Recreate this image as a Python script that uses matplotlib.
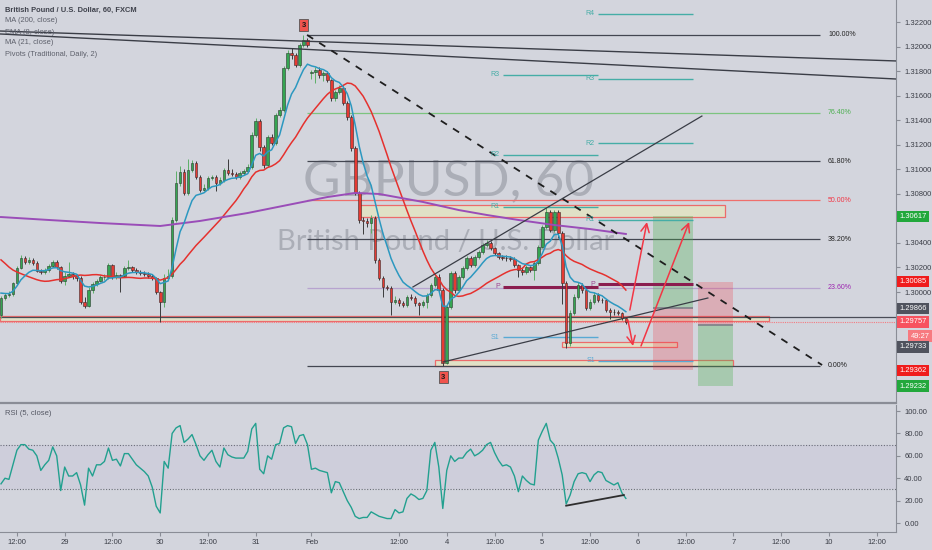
import numpy as np
import pandas as pd
import matplotlib
matplotlib.use('Agg')
import matplotlib.pyplot as plt
from matplotlib.patches import Rectangle
from matplotlib.lines import Line2D
from matplotlib.transforms import blended_transform_factory

plt.rcParams['font.family'] = ['Liberation Sans', 'DejaVu Sans']

# ---------------- data ----------------
opens = [
1.29813, 1.29951, 1.29976, 1.29984, 1.30073, 1.30196, 1.30277, 1.30245, 1.30261, 1.30236,
1.30171, 1.30163, 1.30179, 1.30212, 1.30245, 1.30204, 1.30090, 1.30130, 1.30147, 1.30130,
1.30114, 1.29918, 1.29886, 1.30016, 1.30065, 1.30090, 1.30122, 1.30122, 1.30220, 1.30122,
1.30139, 1.30130, 1.30196, 1.30204, 1.30179, 1.30163, 1.30155, 1.30147, 1.30130, 1.30114,
1.30000, 1.29918, 1.30114, 1.30130, 1.30587, 1.30888, 1.30978, 1.30807, 1.30994, 1.31051,
1.30937, 1.30831, 1.30848, 1.30929, 1.30937, 1.30888, 1.30913, 1.30994, 1.30970, 1.30962,
1.30937, 1.30970, 1.30986, 1.31019, 1.31280, 1.31394, 1.31182, 1.31035, 1.31263, 1.31214,
1.31443, 1.31483, 1.31826, 1.31948, 1.31932, 1.31850, 1.32013, 1.32054, 1.31785, 1.31793,
1.31809, 1.31769, 1.31785, 1.31728, 1.31581, 1.31630, 1.31663, 1.31540, 1.31426, 1.31174,
1.30807, 1.30587, 1.30580, 1.30562, 1.30603, 1.30261, 1.30114, 1.30041, 1.30036, 1.29918,
1.29935, 1.29910, 1.29894, 1.29959, 1.29955, 1.29910, 1.29894, 1.29918, 1.29976, 1.30057,
1.30122, 1.30016, 1.29421, 1.29878, 1.30155, 1.30016, 1.30122, 1.30196, 1.30277, 1.30220,
1.30285, 1.30326, 1.30383, 1.30399, 1.30359, 1.30318, 1.30285, 1.30281, 1.30277, 1.30273,
1.30220, 1.30179, 1.30163, 1.30204, 1.30179, 1.30236, 1.30367, 1.30530, 1.30652, 1.30505,
1.30652, 1.30481, 1.30073, 1.29584, 1.29829, 1.29959, 1.30057, 1.30016, 1.29870, 1.29918,
1.29976, 1.29935, 1.29931, 1.29853, 1.29837, 1.29833, 1.29829, 1.29788]

closes = [
1.29951, 1.29976, 1.29984, 1.30073, 1.30196, 1.30277, 1.30245, 1.30261, 1.30236, 1.30171,
1.30163, 1.30179, 1.30212, 1.30245, 1.30204, 1.30090, 1.30130, 1.30147, 1.30130, 1.30114,
1.29918, 1.29886, 1.30016, 1.30065, 1.30090, 1.30122, 1.30122, 1.30220, 1.30122, 1.30139,
1.30130, 1.30196, 1.30204, 1.30179, 1.30163, 1.30155, 1.30147, 1.30130, 1.30114, 1.30000,
1.29918, 1.30114, 1.30130, 1.30587, 1.30888, 1.30978, 1.30807, 1.30994, 1.31051, 1.30937,
1.30831, 1.30848, 1.30929, 1.30937, 1.30888, 1.30913, 1.30994, 1.30970, 1.30962, 1.30937,
1.30970, 1.30986, 1.31019, 1.31280, 1.31394, 1.31182, 1.31035, 1.31263, 1.31214, 1.31443,
1.31483, 1.31826, 1.31948, 1.31932, 1.31850, 1.32013, 1.32054, 1.32013, 1.31793, 1.31809,
1.31769, 1.31785, 1.31728, 1.31581, 1.31630, 1.31663, 1.31540, 1.31426, 1.31174, 1.30807,
1.30587, 1.30580, 1.30562, 1.30603, 1.30261, 1.30114, 1.30041, 1.30036, 1.29918, 1.29935,
1.29910, 1.29894, 1.29959, 1.29955, 1.29910, 1.29894, 1.29918, 1.29976, 1.30057, 1.30122,
1.30016, 1.29421, 1.29878, 1.30155, 1.30016, 1.30122, 1.30196, 1.30277, 1.30220, 1.30285,
1.30326, 1.30383, 1.30399, 1.30359, 1.30318, 1.30285, 1.30281, 1.30277, 1.30273, 1.30220,
1.30179, 1.30163, 1.30204, 1.30179, 1.30236, 1.30367, 1.30530, 1.30652, 1.30505, 1.30652,
1.30481, 1.30073, 1.29584, 1.29829, 1.29959, 1.30057, 1.30016, 1.29870, 1.29918, 1.29976,
1.29935, 1.29931, 1.29853, 1.29837, 1.29833, 1.29829, 1.29788, 1.29757]

highs = [
1.29968, 1.29995, 1.30010, 1.30085, 1.30210, 1.30300, 1.30290, 1.30285, 1.30275, 1.30250,
1.30190, 1.30195, 1.30225, 1.30262, 1.30258, 1.30215, 1.30160, 1.30245, 1.30165, 1.30150,
1.30130, 1.29960, 1.30040, 1.30085, 1.30110, 1.30140, 1.30150, 1.30235, 1.30230, 1.30160,
1.30150, 1.30215, 1.30260, 1.30215, 1.30195, 1.30180, 1.30170, 1.30165, 1.30145, 1.30125,
1.30010, 1.30150, 1.30190, 1.30610, 1.30990, 1.31030, 1.31000, 1.31080, 1.31075, 1.31070,
1.30950, 1.30880, 1.30945, 1.30955, 1.30950, 1.30935, 1.31010, 1.31080, 1.31000, 1.30980,
1.30990, 1.31005, 1.31040, 1.31300, 1.31420, 1.31410, 1.31195, 1.31280, 1.31290, 1.31460,
1.31505, 1.31840, 1.31970, 1.31985, 1.31950, 1.32030, 1.32095, 1.32070, 1.31810, 1.31830,
1.31830, 1.31800, 1.31800, 1.31740, 1.31650, 1.31690, 1.31680, 1.31555, 1.31440, 1.31190,
1.30820, 1.30610, 1.30600, 1.30625, 1.30620, 1.30275, 1.30130, 1.30060, 1.30050, 1.29965,
1.29950, 1.29925, 1.29975, 1.29980, 1.29970, 1.29920, 1.29935, 1.29990, 1.30075, 1.30140,
1.30150, 1.30030, 1.29900, 1.30170, 1.30170, 1.30140, 1.30215, 1.30295, 1.30290, 1.30300,
1.30345, 1.30400, 1.30420, 1.30415, 1.30370, 1.30330, 1.30300, 1.30300, 1.30295, 1.30285,
1.30230, 1.30200, 1.30220, 1.30215, 1.30250, 1.30385, 1.30550, 1.30690, 1.30670, 1.30670,
1.30665, 1.30500, 1.30090, 1.29850, 1.29980, 1.30080, 1.30070, 1.30030, 1.29940, 1.30000,
1.29990, 1.29955, 1.29945, 1.29870, 1.29860, 1.29850, 1.29840, 1.29800]

lows = [
1.29790, 1.29935, 1.29960, 1.29970, 1.30060, 1.30185, 1.30230, 1.30225, 1.30220, 1.30160,
1.30145, 1.30150, 1.30165, 1.30200, 1.30190, 1.30070, 1.30060, 1.30120, 1.30110, 1.30090,
1.29900, 1.29870, 1.29875, 1.29990, 1.30045, 1.30080, 1.30100, 1.30110, 1.30105, 1.30110,
1.30000, 1.30120, 1.30180, 1.30165, 1.30150, 1.30140, 1.30130, 1.30115, 1.30100, 1.29985,
1.29755, 1.29880, 1.30100, 1.30115, 1.30570, 1.30860, 1.30790, 1.30790, 1.30980, 1.30920,
1.30815, 1.30820, 1.30830, 1.30910, 1.30820, 1.30870, 1.30900, 1.30955, 1.30945, 1.30920,
1.30920, 1.30955, 1.30975, 1.31005, 1.31265, 1.31150, 1.31010, 1.31020, 1.31195, 1.31200,
1.31425, 1.31470, 1.31810, 1.31900, 1.31830, 1.31835, 1.32000, 1.31995, 1.31740, 1.31700,
1.31745, 1.31720, 1.31710, 1.31560, 1.31560, 1.31615, 1.31520, 1.31405, 1.31150, 1.30790,
1.30560, 1.30470, 1.30530, 1.30480, 1.30240, 1.30095, 1.29960, 1.30015, 1.29810, 1.29900,
1.29890, 1.29875, 1.29880, 1.29935, 1.29890, 1.29810, 1.29880, 1.29870, 1.29960, 1.30040,
1.29995, 1.29400, 1.29410, 1.29860, 1.29990, 1.30000, 1.30110, 1.30180, 1.30200, 1.30205,
1.30270, 1.30310, 1.30370, 1.30340, 1.30300, 1.30265, 1.30260, 1.30255, 1.30250, 1.30200,
1.30120, 1.30140, 1.30150, 1.30160, 1.30100, 1.30220, 1.30355, 1.30515, 1.30490, 1.30490,
1.30440, 1.29900, 1.29540, 1.29560, 1.29810, 1.29940, 1.29995, 1.29850, 1.29850, 1.29900,
1.29915, 1.29910, 1.29835, 1.29780, 1.29815, 1.29810, 1.29770, 1.29740]

# closes before the visible window (used to warm up the moving averages)
prior_closes = [1.30560, 1.30590, 1.30550, 1.30600, 1.30570, 1.30620, 1.30580, 1.30540,
                1.30560, 1.30510, 1.30530, 1.30480, 1.30420, 1.30350, 1.30270, 1.30180,
                1.30120, 1.30080, 1.30040, 1.30010, 1.29990, 1.29960, 1.29900, 1.29840]

# MA(200) read at a few bars
ma200_bars = [0, 12, 25, 40, 50, 62, 72, 82, 89, 95, 106, 115, 122, 130, 139, 148, 157]
ma200_vals = [1.30611, 1.30587, 1.30562, 1.30538, 1.30579, 1.30644, 1.30709, 1.30774, 1.30807,
              1.30799, 1.30734, 1.30668, 1.30628, 1.30587, 1.30546, 1.30513, 1.30473]

rsi_vals = [
35, 40, 39, 52, 65, 70, 70, 66, 65, 60,
47, 52, 56, 68, 60, 29, 50, 42, 42, 45,
34, 16, 49, 42, 52, 52, 55, 67, 56, 57,
51, 62, 62, 57, 52, 49, 46, 42, 32, 15,
9, 55, 49, 80, 85, 87, 72, 75, 79, 70,
60, 56, 61, 65, 55, 50, 67, 61, 59, 58,
58, 58, 64, 84, 89, 48, 44, 60, 57, 70,
71, 85, 87, 86, 71, 78, 79, 70, 48, 49,
47, 46, 45, 27, 37, 36, 28, 20, 14, 6,
4, 5, 5, 10, 8, 6, 5, 4, 4, 12,
9, 10, 22, 26, 24, 21, 22, 29, 65, 72,
50, 13, 47, 60, 55, 58, 58, 63, 66, 60,
62, 65, 70, 72, 63, 56, 51, 52, 50, 42,
28, 42, 38, 35, 34, 74, 82, 89, 74, 70,
58, 43, 17, 25, 37, 44, 45, 44, 37, 43,
46, 45, 38, 36, 34, 36, 27, 22]

time_tick_bars = [4, 16, 28, 40, 52, 64, 78, 100, 112, 124, 136, 148, 160, 172, 184, 196, 208, 220]
time_tick_labels = ['12:00', '29', '12:00', '30', '12:00', '31', 'Feb', '12:00', '4', '12:00',
                    '5', '12:00', '6', '12:00', '7', '12:00', '10', '12:00']

# price-axis tick values and the ones hidden behind coloured labels
price_ticks = [1.292, 1.294, 1.296, 1.298, 1.300, 1.302, 1.304, 1.306, 1.308, 1.310,
               1.312, 1.314, 1.316, 1.318, 1.320, 1.322]
hidden_ticks = [1.292, 1.294, 1.296, 1.298, 1.306]

# Fibonacci retracement
fib_high, fib_low = 1.32095, 1.29400
fib_levels = [1.0, 0.764, 0.618, 0.5, 0.382, 0.236, 0.0]
fib_names = ['100.00%', '76.40%', '61.80%', '50.00%', '38.20%', '23.60%', '0.00%']

# Daily pivots (two sessions)
piv1_names = ['R3', 'R2', 'R1', 'P', 'S1']
piv1_vals = [1.31769, 1.31117, 1.30693, 1.30041, 1.29633]
piv2_names = ['R4', 'R3', 'R2', 'R1', 'P', 'S1']
piv2_vals = [1.32266, 1.31736, 1.31214, 1.30587, 1.30065, 1.29438]

# position tools
long_entry, long_tp, long_sl = 1.29866, 1.30617, 1.29362
short_entry, short_sl, short_tp = 1.29733, 1.30085, 1.29232
last_price = 1.29757

# ---------------- figure ----------------
BG = '#d3d5dd'
W, H = 932, 550
fig = plt.figure(figsize=(W / 100, H / 100), dpi=100, facecolor=BG)
ax = fig.add_axes([0, 149 / H, 896 / W, 401 / H], facecolor=BG)
ax2 = fig.add_axes([0, 18 / H, 896 / W, 127 / H], facecolor=BG)

n = len(closes)
x = np.arange(n)
XMIN, XMAX = -0.25, 224.87
ax.set_xlim(XMIN, XMAX)
ax2.set_xlim(XMIN, XMAX)
ax.set_ylim(1.291117, 1.323798)
ax2.set_ylim(-8.0, 105.4)

# watermark
wm = '#abaeb7'
ax.text(0.501, 0.549, 'GBPUSD, 60', transform=ax.transAxes, ha='center', va='center',
        fontsize=37, color=wm, family=['Lato', 'DejaVu Sans'], zorder=0.5)
ax.text(0.497, 0.397, 'British Pound / U.S. Dollar', transform=ax.transAxes, ha='center',
        va='center', fontsize=21, color=wm, family=['Lato', 'DejaVu Sans'], zorder=0.5)

# boxes (beige with red border)
box_fc, box_ec = '#e0e1c6', '#ec6b6b'
ax.add_patch(Rectangle((XMIN, 1.29764), 193.0 - XMIN, 1.29804 - 1.29764, fc=box_fc, ec=box_ec, lw=0.9, zorder=1))
ax.add_patch(Rectangle((90.2, 1.30611), 181.9 - 90.2, 1.30709 - 1.30611, fc=box_fc, ec=box_ec, lw=0.9, zorder=1))
ax.add_patch(Rectangle((141.0, 1.29552), 169.8 - 141.0, 1.29593 - 1.29552, fc=box_fc, ec=box_ec, lw=0.9, zorder=1))
ax.add_patch(Rectangle((109.0, 1.29397), 183.9 - 109.0, 1.29446 - 1.29397, fc=box_fc, ec=box_ec, lw=0.9, zorder=1))
ax.hlines(1.29800, XMIN, XMAX, color='#4a4d57', lw=0.9, zorder=1.1)

# position tools
g_fc = (0.30, 0.69, 0.31, 0.32)
r_fc = (0.95, 0.21, 0.27, 0.25)
ax.add_patch(Rectangle((163.8, long_entry), 10.1, long_tp - long_entry, fc=g_fc, ec='none', zorder=1.5))
ax.add_patch(Rectangle((163.8, long_sl), 10.1, long_entry - long_sl, fc=r_fc, ec='none', zorder=1.5))
ax.hlines(long_entry, 163.8, 173.9, color='#7d7f88', lw=1.2, zorder=1.6)
ax.add_patch(Rectangle((175.1, short_entry), 8.8, short_sl - short_entry, fc=r_fc, ec='none', zorder=1.5))
ax.add_patch(Rectangle((175.1, short_tp), 8.8, short_entry - short_tp, fc=g_fc, ec='none', zorder=1.5))
ax.hlines(short_entry, 175.1, 183.9, color='#7d7f88', lw=1.2, zorder=1.6)

# fib
fib_line_c = ['#434651', '#7cc47f', '#434651', '#ef6f6c', '#434651', '#b7a3cf', '#434651']
fib_text_c = ['#222222', '#4caf50', '#222222', '#f23645', '#222222', '#9c27b0', '#222222']
for lv, nm, lc, tc in zip(fib_levels, fib_names, fib_line_c, fib_text_c):
    p = fib_low + lv * (fib_high - fib_low)
    ax.hlines(p, 76.9, 205.8, color=lc, lw=0.9, zorder=1.2)
    ax.text(207.8, p, nm, ha='left', va='center', fontsize=5, color=tc, zorder=6)

# pivots
R_C, S_C, P_C = '#45ada6', '#58a9d4', '#8b1d4f'
def draw_piv(names, vals, x0, x1):
    for nm, v in zip(names, vals):
        if nm == 'P':
            ax.hlines(v, x0, x1, color=P_C, lw=2.2, zorder=2)
            ax.text(x0 - 0.8, v, nm, ha='right', va='center', fontsize=5, color='#9c3f8f', zorder=6)
        else:
            c = S_C if nm.startswith('S') else R_C
            ax.hlines(v, x0, x1, color=c, lw=1.0, zorder=2)
            ax.text(x0 - 0.8, v, nm, ha='right', va='center', fontsize=5, color=c, zorder=6)
draw_piv(piv1_names, piv1_vals, 126.1, 150.0)
draw_piv(piv2_names, piv2_vals, 150.0, 173.9)

# candles
o = np.array(opens); c = np.array(closes); h = np.array(highs); l = np.array(lows)
up = c >= o
UPC, DNC = '#35a552', '#e53a33'
ax.vlines(x[up], l[up], h[up], color='#5caf68', lw=0.7, zorder=3)
ax.vlines(x[~up], l[~up], h[~up], color='#3b3b3b', lw=0.7, zorder=3)
body = np.where(np.abs(c - o) < 0.00004, 0.00004, c - o)
ax.bar(x[up], body[up], bottom=o[up], width=0.66, color=UPC, edgecolor='#2c3a2e', lw=0.4, zorder=3.2)
ax.bar(x[~up], body[~up], bottom=o[~up], width=0.66, color=DNC, edgecolor='#3a2a2a', lw=0.4, zorder=3.2)

# indicators
full = pd.Series(prior_closes + closes)
ema8 = full.ewm(span=8, adjust=False).mean().values[len(prior_closes):]
ma21 = full.rolling(21).mean().values[len(prior_closes):]
ax.plot(x, ma21, color='#e5312e', lw=1.1, zorder=4)
ax.plot(x, ema8, color='#2c98c0', lw=1.1, zorder=4.1)
ax.plot(ma200_bars, ma200_vals, color='#9a4db8', lw=1.4, zorder=4)

# trend lines
ax.plot([XMIN, XMAX], [1.32127, 1.31883], color='#3a3d46', lw=1.0, zorder=5)
ax.plot([XMIN, XMAX], [1.32103, 1.31736], color='#3a3d46', lw=1.0, zorder=5)
ax.plot([76.9, 206.3], [1.32095, 1.29405], color='#1e1e1e', lw=1.3, ls=(0, (4, 4)), zorder=5)
ax.plot([103.5, 176.1], [1.30041, 1.31434], color='#3a3d46', lw=0.9, zorder=5)
ax.plot([111.1, 177.6], [1.29430, 1.29951], color='#3a3d46', lw=0.9, zorder=5)

# red arrows
arrow_kw = dict(arrowstyle='->,head_length=0.6,head_width=0.3', color='#f23645', lw=1.1,
                shrinkA=0, shrinkB=0)
ax.annotate('', xy=(162.3, 1.30570), xytext=(158.0, 1.29853), arrowprops=arrow_kw, zorder=6)
ax.annotate('', xy=(158.8, 1.29560), xytext=(157.5, 1.29772), arrowprops=arrow_kw, zorder=6)
ax.annotate('', xy=(172.9, 1.30570), xytext=(160.8, 1.29560), arrowprops=arrow_kw, zorder=6)

# "3" markers
for bx, by in [(76.1, 1.32176), (111.1, 1.29307)]:
    ax.text(bx, by, '3', ha='center', va='center', fontsize=5.5, fontweight='bold', color='#1a1a1a',
            bbox=dict(boxstyle='square,pad=0.3', fc='#f0544d', ec='#555555', lw=0.6), zorder=7)

# last price dotted line
ax.hlines(last_price, XMIN, XMAX, color='#f47b80', lw=0.8, ls=(0, (1, 1)), zorder=2)

# axes styling
for a in (ax, ax2):
    for s in ('top', 'left', 'bottom'):
        a.spines[s].set_visible(False)
    a.spines['right'].set_color('#8a8d96')
    a.yaxis.tick_right()
    a.tick_params(axis='y', direction='out', length=3, color='#8a8d96', labelsize=5.5,
                  labelcolor='#3b3e47', pad=3)
ax.set_xticks([])
ax.set_yticks(price_ticks)
ax.set_yticklabels(['' if any(abs(v - hv) < 1e-9 for hv in hidden_ticks) else '%.5f' % v
                    for v in price_ticks])

ax2.spines['bottom'].set_visible(True)
ax2.spines['bottom'].set_color('#8a8d96')
ax2.set_xticks(time_tick_bars)
ax2.set_xticklabels(time_tick_labels)
ax2.tick_params(axis='x', direction='out', length=3, color='#8a8d96', labelsize=5.5,
                labelcolor='#3b3e47', pad=2)
ax2.set_yticks([0, 20, 40, 60, 80, 100])
ax2.set_yticklabels(['0.00', '20.00', '40.00', '60.00', '80.00', '100.00'])

# RSI pane
ax2.axhspan(30, 70, color='#9575cd', alpha=0.07, lw=0, zorder=0.5)
ax2.axhline(70, color='#6a6d78', lw=0.8, ls=(0, (1, 1.5)), zorder=1)
ax2.axhline(30, color='#6a6d78', lw=0.8, ls=(0, (1, 1.5)), zorder=1)
ax2.plot(x, rsi_vals, color='#22a08f', lw=1.0, zorder=3)
ax2.plot([142.0, 156.5], [15.5, 25.0], color='#2e2e2e', lw=1.3, zorder=4)
ax2.text(5 / 896, 0.93, 'RSI (5, close)', transform=ax2.transAxes, fontsize=5.5,
         color='#555864', ha='left', va='center')

# pane separator
fig.add_artist(Line2D([0, 896 / W], [1 - 403 / H] * 2, color='#8a8d96', lw=1.6))

# price labels on the right axis
tr = blended_transform_factory(ax.transAxes, ax.transData)
def plabel(val_y, txt, fc, xoff=0.004):
    ax.text(1 + xoff, val_y, txt, transform=tr, ha='left', va='center', fontsize=5.4, color='white',
            bbox=dict(boxstyle='square,pad=0.3', fc=fc, ec='none'), clip_on=False, zorder=10)
plabel(long_tp, '%.5f' % long_tp, '#22a83c')
plabel(short_sl, '%.5f' % short_sl, '#f01c1c')
plabel(long_entry, '%.5f' % long_entry, '#50535e')
plabel(last_price, '%.5f' % last_price, '#f7525f')
plabel(1.29641, '49:27', '#f77a80', xoff=0.016)
plabel(1.29552, '%.5f' % short_entry, '#50535e')
plabel(long_sl, '%.5f' % long_sl, '#f01c1c')
plabel(short_tp, '%.5f' % short_tp, '#22a83c')

# legend text
fig.text(5 / W, 1 - 10 / H, 'British Pound / U.S. Dollar, 60, FXCM', fontsize=5.4, color='#3e414b',
         fontweight='bold', ha='left', va='center')
for k, t in enumerate(['MA (200, close)', 'EMA (8, close)', 'MA (21, close)', 'Pivots (Traditional, Daily, 2)']):
    fig.text(5 / W, 1 - (21 + 11 * k) / H, t, fontsize=5.4, color='#5d606b', ha='left', va='center')

fig.savefig('out.png', dpi=100, facecolor=BG)
